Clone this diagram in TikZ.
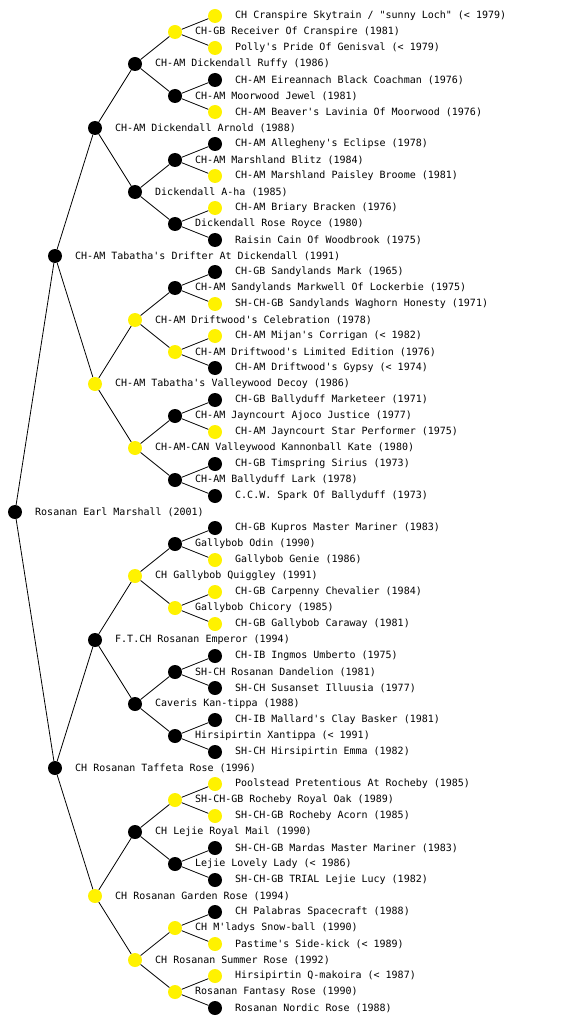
\documentclass[tikz,border=0pt]{standalone}
\usepackage{fontspec}
\newfontfamily\lbfont{DejaVu Sans Mono}
\begin{document}
\begin{tikzpicture}[x=1pt,y=-1pt,
  m/.style={circle, fill=black, minimum size=14pt, inner sep=0pt},
  f/.style={circle, fill=yellow, minimum size=14pt, inner sep=0pt},
  lbl/.style={anchor=west, inner sep=0pt, font=\lbfont\fontsize{10}{12}\selectfont},
  edgeline/.style={draw=black, line width=0.8pt}]
\useasboundingbox (0,0) rectangle (560,1024);
% root
\node[m] (r) at (15,512) {};
\node[lbl] (tr) at (35,512) {Rosanan Earl Marshall (2001)};
% level 1
\node[m] (a1) at (55,256) {}; \node[lbl] (ta1) at (75,256) {CH-AM Tabatha's Drifter At Dickendall (1991)};
\node[m] (a2) at (55,768) {}; \node[lbl] (ta2) at (75,768) {CH Rosanan Taffeta Rose (1996)};
% level 2
\node[m] (b1) at (95,128) {}; \node[lbl] (tb1) at (115,128) {CH-AM Dickendall Arnold (1988)};
\node[f] (b2) at (95,384) {}; \node[lbl] (tb2) at (115,384) {CH-AM Tabatha's Valleywood Decoy (1986)};
\node[m] (b3) at (95,640) {}; \node[lbl] (tb3) at (115,640) {F.T.CH Rosanan Emperor (1994)};
\node[f] (b4) at (95,896) {}; \node[lbl] (tb4) at (115,896) {CH Rosanan Garden Rose (1994)};
% level 3
\node[m] (c1) at (135,64) {};  \node[lbl] (tc1) at (155,64) {CH-AM Dickendall Ruffy (1986)};
\node[m] (c2) at (135,192) {}; \node[lbl] (tc2) at (155,192) {Dickendall A-ha (1985)};
\node[f] (c3) at (135,320) {}; \node[lbl] (tc3) at (155,320) {CH-AM Driftwood's Celebration (1978)};
\node[f] (c4) at (135,448) {}; \node[lbl] (tc4) at (155,448) {CH-AM-CAN Valleywood Kannonball Kate (1980)};
\node[f] (c5) at (135,576) {}; \node[lbl] (tc5) at (155,576) {CH Gallybob Quiggley (1991)};
\node[m] (c6) at (135,704) {}; \node[lbl] (tc6) at (155,704) {Caveris Kan-tippa (1988)};
\node[m] (c7) at (135,832) {}; \node[lbl] (tc7) at (155,832) {CH Lejie Royal Mail (1990)};
\node[f] (c8) at (135,960) {}; \node[lbl] (tc8) at (155,960) {CH Rosanan Summer Rose (1992)};
% level 4
\node[f] (d1) at (175,32) {};   \node[lbl] (td1) at (195,32) {CH-GB Receiver Of Cranspire (1981)};
\node[m] (d2) at (175,96) {};   \node[lbl] (td2) at (195,96) {CH-AM Moorwood Jewel (1981)};
\node[m] (d3) at (175,160) {};  \node[lbl] (td3) at (195,160) {CH-AM Marshland Blitz (1984)};
\node[m] (d4) at (175,224) {};  \node[lbl] (td4) at (195,224) {Dickendall Rose Royce (1980)};
\node[m] (d5) at (175,288) {};  \node[lbl] (td5) at (195,288) {CH-AM Sandylands Markwell Of Lockerbie (1975)};
\node[f] (d6) at (175,352) {};  \node[lbl] (td6) at (195,352) {CH-AM Driftwood's Limited Edition (1976)};
\node[m] (d7) at (175,416) {};  \node[lbl] (td7) at (195,416) {CH-AM Jayncourt Ajoco Justice (1977)};
\node[m] (d8) at (175,480) {};  \node[lbl] (td8) at (195,480) {CH-AM Ballyduff Lark (1978)};
\node[m] (d9) at (175,544) {};  \node[lbl] (td9) at (195,544) {Gallybob Odin (1990)};
\node[f] (d10) at (175,608) {}; \node[lbl] (td10) at (195,608) {Gallybob Chicory (1985)};
\node[m] (d11) at (175,672) {}; \node[lbl] (td11) at (195,672) {SH-CH Rosanan Dandelion (1981)};
\node[m] (d12) at (175,736) {}; \node[lbl] (td12) at (195,736) {Hirsipirtin Xantippa (< 1991)};
\node[f] (d13) at (175,800) {}; \node[lbl] (td13) at (195,800) {SH-CH-GB Rocheby Royal Oak (1989)};
\node[m] (d14) at (175,864) {}; \node[lbl] (td14) at (195,864) {Lejie Lovely Lady (< 1986)};
\node[f] (d15) at (175,928) {}; \node[lbl] (td15) at (195,928) {CH M'ladys Snow-ball (1990)};
\node[f] (d16) at (175,992) {}; \node[lbl] (td16) at (195,992) {Rosanan Fantasy Rose (1990)};
% level 5
\node[f] (e1) at (215,16) {};   \node[lbl] (te1) at (235,16) {CH Cranspire Skytrain / "sunny Loch" (< 1979)};
\node[f] (e2) at (215,48) {};   \node[lbl] (te2) at (235,48) {Polly's Pride Of Genisval (< 1979)};
\node[m] (e3) at (215,80) {};   \node[lbl] (te3) at (235,80) {CH-AM Eireannach Black Coachman (1976)};
\node[f] (e4) at (215,112) {};  \node[lbl] (te4) at (235,112) {CH-AM Beaver's Lavinia Of Moorwood (1976)};
\node[m] (e5) at (215,144) {};  \node[lbl] (te5) at (235,144) {CH-AM Allegheny's Eclipse (1978)};
\node[f] (e6) at (215,176) {};  \node[lbl] (te6) at (235,176) {CH-AM Marshland Paisley Broome (1981)};
\node[f] (e7) at (215,208) {};  \node[lbl] (te7) at (235,208) {CH-AM Briary Bracken (1976)};
\node[m] (e8) at (215,240) {};  \node[lbl] (te8) at (235,240) {Raisin Cain Of Woodbrook (1975)};
\node[m] (e9) at (215,272) {};  \node[lbl] (te9) at (235,272) {CH-GB Sandylands Mark (1965)};
\node[f] (e10) at (215,304) {}; \node[lbl] (te10) at (235,304) {SH-CH-GB Sandylands Waghorn Honesty (1971)};
\node[f] (e11) at (215,336) {}; \node[lbl] (te11) at (235,336) {CH-AM Mijan's Corrigan (< 1982)};
\node[m] (e12) at (215,368) {}; \node[lbl] (te12) at (235,368) {CH-AM Driftwood's Gypsy (< 1974)};
\node[m] (e13) at (215,400) {}; \node[lbl] (te13) at (235,400) {CH-GB Ballyduff Marketeer (1971)};
\node[f] (e14) at (215,432) {}; \node[lbl] (te14) at (235,432) {CH-AM Jayncourt Star Performer (1975)};
\node[m] (e15) at (215,464) {}; \node[lbl] (te15) at (235,464) {CH-GB Timspring Sirius (1973)};
\node[m] (e16) at (215,496) {}; \node[lbl] (te16) at (235,496) {C.C.W. Spark Of Ballyduff (1973)};
\node[m] (e17) at (215,528) {}; \node[lbl] (te17) at (235,528) {CH-GB Kupros Master Mariner (1983)};
\node[f] (e18) at (215,560) {}; \node[lbl] (te18) at (235,560) {Gallybob Genie (1986)};
\node[f] (e19) at (215,592) {}; \node[lbl] (te19) at (235,592) {CH-GB Carpenny Chevalier (1984)};
\node[f] (e20) at (215,624) {}; \node[lbl] (te20) at (235,624) {CH-GB Gallybob Caraway (1981)};
\node[m] (e21) at (215,656) {}; \node[lbl] (te21) at (235,656) {CH-IB Ingmos Umberto (1975)};
\node[m] (e22) at (215,688) {}; \node[lbl] (te22) at (235,688) {SH-CH Susanset Illuusia (1977)};
\node[m] (e23) at (215,720) {}; \node[lbl] (te23) at (235,720) {CH-IB Mallard's Clay Basker (1981)};
\node[m] (e24) at (215,752) {}; \node[lbl] (te24) at (235,752) {SH-CH Hirsipirtin Emma (1982)};
\node[f] (e25) at (215,784) {}; \node[lbl] (te25) at (235,784) {Poolstead Pretentious At Rocheby (1985)};
\node[f] (e26) at (215,816) {}; \node[lbl] (te26) at (235,816) {SH-CH-GB Rocheby Acorn (1985)};
\node[m] (e27) at (215,848) {}; \node[lbl] (te27) at (235,848) {SH-CH-GB Mardas Master Mariner (1983)};
\node[m] (e28) at (215,880) {}; \node[lbl] (te28) at (235,880) {SH-CH-GB TRIAL Lejie Lucy (1982)};
\node[m] (e29) at (215,912) {}; \node[lbl] (te29) at (235,912) {CH Palabras Spacecraft (1988)};
\node[f] (e30) at (215,944) {}; \node[lbl] (te30) at (235,944) {Pastime's Side-kick (< 1989)};
\node[f] (e31) at (215,976) {}; \node[lbl] (te31) at (235,976) {Hirsipirtin Q-makoira (< 1987)};
\node[m] (e32) at (215,1008) {}; \node[lbl] (te32) at (235,1008) {Rosanan Nordic Rose (1988)};
% connectors
\draw[edgeline] (r) -- (a1);
\draw[edgeline] (r) -- (a2);
\foreach \i in {1,...,4} {\pgfmathtruncatemacro\p{(\i+1)/2}\draw[edgeline] (a\p) -- (b\i);}
\foreach \i in {1,...,8} {\pgfmathtruncatemacro\p{(\i+1)/2}\draw[edgeline] (b\p) -- (c\i);}
\foreach \i in {1,...,16} {\pgfmathtruncatemacro\p{(\i+1)/2}\draw[edgeline] (c\p) -- (d\i);}
\foreach \i in {1,...,32} {\pgfmathtruncatemacro\p{(\i+1)/2}\draw[edgeline] (d\p) -- (e\i);}
\end{tikzpicture}
\end{document}
